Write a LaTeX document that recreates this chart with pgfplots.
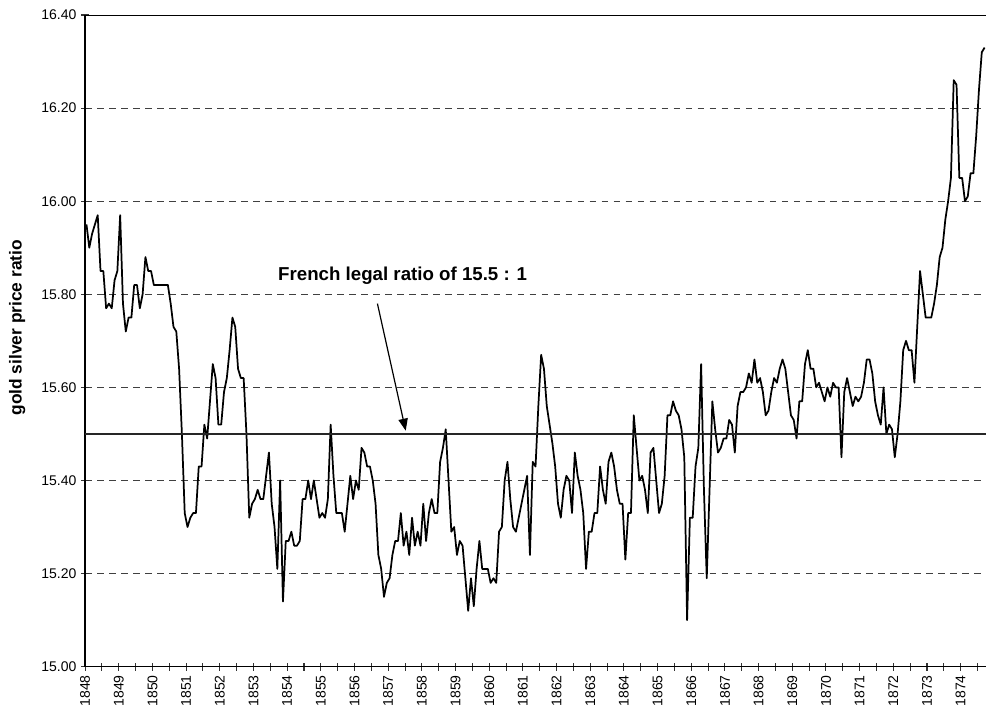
\documentclass[border=0pt]{standalone}
\usepackage{fontspec}
\setmainfont{Liberation Sans}
\usepackage{pgfplots}
\usepackage{pgfplotstable}
\pgfplotsset{compat=1.18}
\usetikzlibrary{arrows.meta}

% monthly gold/silver ratio, Jan 1848 -- Sep 1874 (one year per line)
\pgfplotstableread[row sep=\\]{
r\\
15.95\\ 15.90\\ 15.93\\ 15.95\\ 15.97\\ 15.85\\ 15.85\\ 15.77\\ 15.78\\ 15.77\\ 15.83\\ 15.85\\
15.97\\ 15.78\\ 15.72\\ 15.75\\ 15.75\\ 15.82\\ 15.82\\ 15.77\\ 15.80\\ 15.88\\ 15.85\\ 15.85\\
15.82\\ 15.82\\ 15.82\\ 15.82\\ 15.82\\ 15.82\\ 15.78\\ 15.73\\ 15.72\\ 15.64\\ 15.50\\ 15.33\\
15.30\\ 15.32\\ 15.33\\ 15.33\\ 15.43\\ 15.43\\ 15.52\\ 15.49\\ 15.57\\ 15.65\\ 15.62\\ 15.52\\
15.52\\ 15.59\\ 15.62\\ 15.68\\ 15.75\\ 15.73\\ 15.64\\ 15.62\\ 15.62\\ 15.50\\ 15.32\\ 15.35\\
15.36\\ 15.38\\ 15.36\\ 15.36\\ 15.41\\ 15.46\\ 15.35\\ 15.30\\ 15.21\\ 15.40\\ 15.14\\ 15.27\\
15.27\\ 15.29\\ 15.26\\ 15.26\\ 15.27\\ 15.36\\ 15.36\\ 15.40\\ 15.36\\ 15.40\\ 15.36\\ 15.32\\
15.33\\ 15.32\\ 15.36\\ 15.52\\ 15.41\\ 15.33\\ 15.33\\ 15.33\\ 15.29\\ 15.35\\ 15.41\\ 15.36\\
15.40\\ 15.38\\ 15.47\\ 15.46\\ 15.43\\ 15.43\\ 15.40\\ 15.35\\ 15.24\\ 15.21\\ 15.15\\ 15.18\\
15.19\\ 15.24\\ 15.27\\ 15.27\\ 15.33\\ 15.26\\ 15.29\\ 15.24\\ 15.32\\ 15.26\\ 15.29\\ 15.26\\
15.35\\ 15.27\\ 15.33\\ 15.36\\ 15.33\\ 15.33\\ 15.44\\ 15.47\\ 15.51\\ 15.40\\ 15.29\\ 15.30\\
15.24\\ 15.27\\ 15.26\\ 15.19\\ 15.12\\ 15.19\\ 15.13\\ 15.21\\ 15.27\\ 15.21\\ 15.21\\ 15.21\\
15.18\\ 15.19\\ 15.18\\ 15.29\\ 15.30\\ 15.40\\ 15.44\\ 15.36\\ 15.30\\ 15.29\\ 15.32\\ 15.35\\
15.38\\ 15.41\\ 15.24\\ 15.44\\ 15.43\\ 15.56\\ 15.67\\ 15.64\\ 15.56\\ 15.52\\ 15.48\\ 15.43\\
15.35\\ 15.32\\ 15.38\\ 15.41\\ 15.40\\ 15.33\\ 15.46\\ 15.41\\ 15.38\\ 15.33\\ 15.21\\ 15.29\\
15.29\\ 15.33\\ 15.33\\ 15.43\\ 15.38\\ 15.35\\ 15.44\\ 15.46\\ 15.43\\ 15.38\\ 15.35\\ 15.35\\
15.23\\ 15.33\\ 15.33\\ 15.54\\ 15.47\\ 15.40\\ 15.41\\ 15.38\\ 15.33\\ 15.46\\ 15.47\\ 15.40\\
15.33\\ 15.35\\ 15.41\\ 15.54\\ 15.54\\ 15.57\\ 15.55\\ 15.54\\ 15.51\\ 15.45\\ 15.10\\ 15.32\\
15.32\\ 15.43\\ 15.47\\ 15.65\\ 15.38\\ 15.19\\ 15.38\\ 15.57\\ 15.51\\ 15.46\\ 15.47\\ 15.49\\
15.49\\ 15.53\\ 15.52\\ 15.46\\ 15.56\\ 15.59\\ 15.59\\ 15.60\\ 15.63\\ 15.61\\ 15.66\\ 15.61\\
15.62\\ 15.59\\ 15.54\\ 15.55\\ 15.59\\ 15.62\\ 15.61\\ 15.64\\ 15.66\\ 15.64\\ 15.59\\ 15.54\\
15.53\\ 15.49\\ 15.57\\ 15.57\\ 15.65\\ 15.68\\ 15.64\\ 15.64\\ 15.60\\ 15.61\\ 15.59\\ 15.57\\
15.60\\ 15.58\\ 15.61\\ 15.60\\ 15.60\\ 15.45\\ 15.59\\ 15.62\\ 15.59\\ 15.56\\ 15.58\\ 15.57\\
15.58\\ 15.61\\ 15.66\\ 15.66\\ 15.63\\ 15.57\\ 15.54\\ 15.52\\ 15.60\\ 15.50\\ 15.52\\ 15.51\\
15.45\\ 15.50\\ 15.57\\ 15.68\\ 15.70\\ 15.68\\ 15.68\\ 15.61\\ 15.73\\ 15.85\\ 15.80\\ 15.75\\
15.75\\ 15.75\\ 15.78\\ 15.82\\ 15.88\\ 15.90\\ 15.96\\ 16.00\\ 16.05\\ 16.26\\ 16.25\\ 16.05\\
16.05\\ 16.00\\ 16.01\\ 16.06\\ 16.06\\ 16.14\\ 16.24\\ 16.32\\ 16.33\\
}\ratiotable

\begin{document}
\begin{tikzpicture}
\begin{axis}[
  name=ax,
  scale only axis,
  width=675pt, height=488.25pt,
  xmin=1848, xmax=1874.75,
  ymin=15, ymax=16.4,
  axis x line*=bottom,
  axis y line*=left,
  axis line style={black, line width=1.1pt},
  xtick={1848,1849,...,1874},
  minor xtick={1848.5,1849.5,1850.5,1851.5,1852.5,1853.5,1854.5,1855.5,1856.5,1857.5,1858.5,1859.5,1860.5,1861.5,1862.5,1863.5,1864.5,1865.5,1866.5,1867.5,1868.5,1869.5,1870.5,1871.5,1872.5,1873.5,1874.5},
  ytick={15,15.2,15.4,15.6,15.8,16,16.2,16.4},
  tick align=center,
  major tick length=6pt, minor tick length=6pt,
  tick style={black!80, line width=0.8pt},
  ymajorgrids,
  grid style={black!75, line width=0.7pt, dash pattern=on 5pt off 4pt},
  /pgf/number format/assume math mode=true,
  tick label style={font=\fontsize{10.5}{12}\selectfont},
  x tick label style={rotate=90, anchor=east, /pgf/number format/1000 sep={}},
  y tick label style={/pgf/number format/.cd, fixed, fixed zerofill, precision=2},
  ylabel={gold silver price ratio},
  ylabel style={font=\bfseries\fontsize{13}{15}\selectfont,
    at={(axis description cs:-0.0755,0.52)}, anchor=center},
]
\addplot[black, line width=1.3pt, line join=round] table[x expr={1848+(\coordindex+0.5)/12}, y=r] {\ratiotable};
\addplot[black!85, line width=1.1pt] coordinates {(1848,15.5) (1874.75,15.5)};
\draw[black, line width=1.1pt] (rel axis cs:0,1) -- (rel axis cs:1,1);
\draw[black, line width=0.9pt, -{Triangle[length=9pt,width=7pt]}] (axis cs:1856.68,15.78) -- (axis cs:1857.52,15.507);
\node[font=\bfseries\fontsize{14}{16}\selectfont] at (axis cs:1857.43,15.84) {French legal ratio of 15.5 : 1};
\end{axis}
\pgfresetboundingbox
\path[use as bounding box] ([xshift=-63.75pt,yshift=-32.25pt]ax.south west) rectangle ([yshift=11.25pt]ax.north east);
\end{tikzpicture}
\end{document}
